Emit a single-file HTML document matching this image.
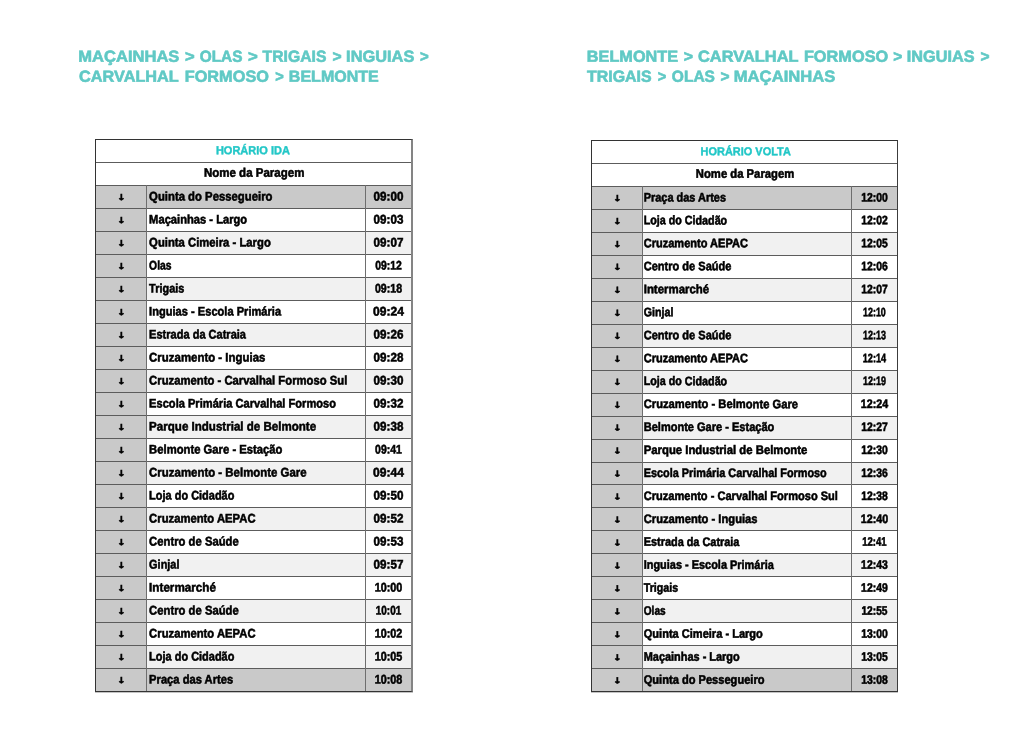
<!DOCTYPE html>
<html lang="pt"><head><meta charset="utf-8"><title>Horário</title>
<style>
html,body{margin:0;padding:0;background:#fff;}
body{width:1030px;height:730px;position:relative;overflow:hidden;font-family:"Liberation Sans",sans-serif;font-weight:bold;color:#000;}
.x{position:absolute;display:block;white-space:nowrap;transform-origin:0 0;-webkit-text-stroke:0.55px #000;}
.x.tt{color:#60c9c5;-webkit-text-stroke:0.6px #60c9c5;}
.x.hd{color:#22c7c7;-webkit-text-stroke:0.4px #22c7c7;}
.x.ar{font-family:"DejaVu Sans",sans-serif;-webkit-text-stroke:0.5px #000;}
.tb{position:absolute;box-sizing:border-box;border:1px solid #333;background:#fff;box-shadow:0 1px 0 rgba(40,40,40,.28);}
.tb.t1{border-right:2px solid #848484;}
.tb.t2{border-right-color:#3c3c3c;}
.tb .row{position:absolute;left:0;right:0;margin-top:-1px;}
.tb .row.d{background:#c9c9c9}
.tb .row.g{background:#f1f1f1}
.tb .row .a{position:absolute;left:0;top:0;bottom:0;width:51px;background:#c9c9c9;}
.tb .hl{position:absolute;left:0;right:0;height:1px;margin-top:-1px;background:#5c5c5c;}
.tb .vl{position:absolute;top:45px;bottom:0;width:1px;margin-left:-1px;background:#6e6e6e;}

</style></head><body>
<span class="x tt" style="left:78px;top:46px;font-size:16.0px;line-height:20px;transform:matrix(1.0340,.0006,.0006,1,0.27,0.80)">MAÇAINHAS</span>
<span class="x tt" style="left:185px;top:46px;font-size:16.0px;line-height:20px;transform:matrix(1.0333,.0006,.0006,1,0.00,0.80)">&gt;</span>
<span class="x tt" style="left:199px;top:46px;font-size:16.0px;line-height:20px;transform:matrix(0.9626,.0006,.0006,1,0.70,0.80)">OLAS</span>
<span class="x tt" style="left:248px;top:46px;font-size:16.0px;line-height:20px;transform:matrix(1.0444,.0006,.0006,1,0.00,0.80)">&gt;</span>
<span class="x tt" style="left:262px;top:46px;font-size:16.0px;line-height:20px;transform:matrix(0.9828,.0006,.0006,1,0.60,0.80)">TRIGAIS</span>
<span class="x tt" style="left:332px;top:46px;font-size:16.0px;line-height:20px;transform:matrix(0.9778,.0006,.0006,1,0.50,0.80)">&gt;</span>
<span class="x tt" style="left:346px;top:46px;font-size:16.0px;line-height:20px;transform:matrix(1.0242,.0006,.0006,1,0.08,0.80)">INGUIAS</span>
<span class="x tt" style="left:419px;top:46px;font-size:16.0px;line-height:20px;transform:matrix(0.9333,.0006,.0006,1,0.90,0.80)">&gt;</span>
<span class="x tt" style="left:79px;top:66px;font-size:16.0px;line-height:20px;transform:matrix(1.0173,.0006,.0006,1,0.00,0.75)">CARVALHAL</span>
<span class="x tt" style="left:184px;top:66px;font-size:16.0px;line-height:20px;transform:matrix(1.0195,.0006,.0006,1,0.68,0.75)">FORMOSO</span>
<span class="x tt" style="left:275px;top:66px;font-size:16.0px;line-height:20px;transform:matrix(0.9111,.0006,.0006,1,0.20,0.75)">&gt;</span>
<span class="x tt" style="left:288px;top:66px;font-size:16.0px;line-height:20px;transform:matrix(1.0022,.0006,.0006,1,0.80,0.75)">BELMONTE</span>
<span class="x tt" style="left:586px;top:46px;font-size:16.0px;line-height:20px;transform:matrix(1.0168,.0006,.0006,1,0.78,0.80)">BELMONTE</span>
<span class="x tt" style="left:683px;top:46px;font-size:16.0px;line-height:20px;transform:matrix(0.9889,.0006,.0006,1,0.70,0.80)">&gt;</span>
<span class="x tt" style="left:697px;top:46px;font-size:16.0px;line-height:20px;transform:matrix(1.0265,.0006,.0006,1,0.90,0.80)">CARVALHAL</span>
<span class="x tt" style="left:803px;top:46px;font-size:16.0px;line-height:20px;transform:matrix(1.0207,.0006,.0006,1,0.88,0.80)">FORMOSO</span>
<span class="x tt" style="left:893px;top:46px;font-size:16.0px;line-height:20px;transform:matrix(0.9667,.0006,.0006,1,0.20,0.80)">&gt;</span>
<span class="x tt" style="left:906px;top:46px;font-size:16.0px;line-height:20px;transform:matrix(1.0152,.0006,.0006,1,0.78,0.80)">INGUIAS</span>
<span class="x tt" style="left:980px;top:46px;font-size:16.0px;line-height:20px;transform:matrix(0.9667,.0006,.0006,1,0.60,0.80)">&gt;</span>
<span class="x tt" style="left:587px;top:66px;font-size:16.0px;line-height:20px;transform:matrix(0.9966,.0006,.0006,1,0.00,0.75)">TRIGAIS</span>
<span class="x tt" style="left:657px;top:66px;font-size:16.0px;line-height:20px;transform:matrix(0.9111,.0006,.0006,1,0.70,0.75)">&gt;</span>
<span class="x tt" style="left:671px;top:66px;font-size:16.0px;line-height:20px;transform:matrix(0.9716,.0006,.0006,1,0.80,0.75)">OLAS</span>
<span class="x tt" style="left:720px;top:66px;font-size:16.0px;line-height:20px;transform:matrix(0.9667,.0006,.0006,1,0.60,0.75)">&gt;</span>
<span class="x tt" style="left:733px;top:66px;font-size:16.0px;line-height:20px;transform:matrix(1.0391,.0006,.0006,1,0.76,0.75)">MAÇAINHAS</span>
<div class="tb t1" style="left:95px;top:139px;width:318px;height:553px">
<div class="row d" style="top:46px;height:23px"><i class="a"></i></div>
<div class="row w" style="top:69px;height:23px"><i class="a"></i></div>
<div class="row g" style="top:92px;height:23px"><i class="a"></i></div>
<div class="row w" style="top:115px;height:23px"><i class="a"></i></div>
<div class="row g" style="top:138px;height:23px"><i class="a"></i></div>
<div class="row w" style="top:161px;height:23px"><i class="a"></i></div>
<div class="row g" style="top:184px;height:23px"><i class="a"></i></div>
<div class="row w" style="top:207px;height:23px"><i class="a"></i></div>
<div class="row g" style="top:230px;height:23px"><i class="a"></i></div>
<div class="row w" style="top:253px;height:23px"><i class="a"></i></div>
<div class="row g" style="top:276px;height:23px"><i class="a"></i></div>
<div class="row w" style="top:299px;height:23px"><i class="a"></i></div>
<div class="row g" style="top:322px;height:23px"><i class="a"></i></div>
<div class="row w" style="top:345px;height:23px"><i class="a"></i></div>
<div class="row g" style="top:368px;height:23px"><i class="a"></i></div>
<div class="row w" style="top:391px;height:23px"><i class="a"></i></div>
<div class="row g" style="top:414px;height:23px"><i class="a"></i></div>
<div class="row w" style="top:437px;height:23px"><i class="a"></i></div>
<div class="row g" style="top:460px;height:23px"><i class="a"></i></div>
<div class="row w" style="top:483px;height:23px"><i class="a"></i></div>
<div class="row g" style="top:506px;height:23px"><i class="a"></i></div>
<div class="row d" style="top:529px;height:23px"><i class="a"></i></div>
<b class="hl" style="top:23px"></b>
<b class="hl" style="top:46px"></b>
<b class="hl" style="top:69px"></b>
<b class="hl" style="top:92px"></b>
<b class="hl" style="top:115px"></b>
<b class="hl" style="top:138px"></b>
<b class="hl" style="top:161px"></b>
<b class="hl" style="top:184px"></b>
<b class="hl" style="top:207px"></b>
<b class="hl" style="top:230px"></b>
<b class="hl" style="top:253px"></b>
<b class="hl" style="top:276px"></b>
<b class="hl" style="top:299px"></b>
<b class="hl" style="top:322px"></b>
<b class="hl" style="top:345px"></b>
<b class="hl" style="top:368px"></b>
<b class="hl" style="top:391px"></b>
<b class="hl" style="top:414px"></b>
<b class="hl" style="top:437px"></b>
<b class="hl" style="top:460px"></b>
<b class="hl" style="top:483px"></b>
<b class="hl" style="top:506px"></b>
<b class="hl" style="top:529px"></b>
<b class="vl" style="left:51px"></b><b class="vl" style="left:270px"></b>
</div>
<span class="x hd" style="left:215px;top:139px;font-size:11.6px;line-height:22px;transform:matrix(0.9483,.0006,.0006,1,0.90,0.20)">HORÁRIO IDA</span>
<span class="x " style="left:203px;top:161px;font-size:12.5px;line-height:22px;transform:matrix(0.9215,.0006,.0006,1,0.90,0.75)">Nome da Paragem</span>
<span class="x ar" style="left:117px;top:187px;font-size:9.5px;line-height:22px;transform:matrix(1.1000,.0006,.0006,0.9125,0.10,0.51)">↓</span>
<span class="x " style="left:149px;top:185px;font-size:12.5px;line-height:22px;transform:matrix(0.9062,.0006,.0006,1,0.10,0.45)">Quinta do Pessegueiro</span>
<span class="x " style="left:373px;top:185px;font-size:12.5px;line-height:22px;transform:matrix(0.9338,.0006,.0006,1,0.55,0.45)">09:00</span>
<span class="x ar" style="left:117px;top:210px;font-size:9.5px;line-height:22px;transform:matrix(1.1000,.0006,.0006,0.9125,0.10,0.51)">↓</span>
<span class="x " style="left:149px;top:208px;font-size:12.5px;line-height:22px;transform:matrix(0.8936,.0006,.0006,1,0.10,0.45)">Maçainhas - Largo</span>
<span class="x " style="left:373px;top:208px;font-size:12.5px;line-height:22px;transform:matrix(0.9338,.0006,.0006,1,0.55,0.45)">09:03</span>
<span class="x ar" style="left:117px;top:233px;font-size:9.5px;line-height:22px;transform:matrix(1.1000,.0006,.0006,0.9125,0.10,0.51)">↓</span>
<span class="x " style="left:149px;top:231px;font-size:12.5px;line-height:22px;transform:matrix(0.9030,.0006,.0006,1,0.10,0.45)">Quinta Cimeira - Largo</span>
<span class="x " style="left:373px;top:231px;font-size:12.5px;line-height:22px;transform:matrix(0.9338,.0006,.0006,1,0.55,0.45)">09:07</span>
<span class="x ar" style="left:117px;top:256px;font-size:9.5px;line-height:22px;transform:matrix(1.1000,.0006,.0006,0.9125,0.10,0.51)">↓</span>
<span class="x " style="left:149px;top:254px;font-size:12.5px;line-height:22px;transform:matrix(0.8288,.0006,.0006,1,0.10,0.45)">Olas</span>
<span class="x " style="left:375px;top:254px;font-size:12.5px;line-height:22px;transform:matrix(0.8308,.0006,.0006,1,0.20,0.45)">09:12</span>
<span class="x ar" style="left:117px;top:279px;font-size:9.5px;line-height:22px;transform:matrix(1.1000,.0006,.0006,0.9125,0.10,0.51)">↓</span>
<span class="x " style="left:149px;top:277px;font-size:12.5px;line-height:22px;transform:matrix(0.8750,.0006,.0006,1,0.10,0.45)">Trigais</span>
<span class="x " style="left:374px;top:277px;font-size:12.5px;line-height:22px;transform:matrix(0.8495,.0006,.0006,1,0.90,0.45)">09:18</span>
<span class="x ar" style="left:117px;top:302px;font-size:9.5px;line-height:22px;transform:matrix(1.1000,.0006,.0006,0.9125,0.10,0.51)">↓</span>
<span class="x " style="left:149px;top:300px;font-size:12.5px;line-height:22px;transform:matrix(0.8877,.0006,.0006,1,0.10,0.45)">Inguias - Escola Primária</span>
<span class="x " style="left:373px;top:300px;font-size:12.5px;line-height:22px;transform:matrix(0.9682,.0006,.0006,1,0.00,0.45)">09:24</span>
<span class="x ar" style="left:117px;top:325px;font-size:9.5px;line-height:22px;transform:matrix(1.1000,.0006,.0006,0.9125,0.10,0.51)">↓</span>
<span class="x " style="left:149px;top:323px;font-size:12.5px;line-height:22px;transform:matrix(0.8825,.0006,.0006,1,0.10,0.45)">Estrada da Catraia</span>
<span class="x " style="left:373px;top:323px;font-size:12.5px;line-height:22px;transform:matrix(0.9338,.0006,.0006,1,0.55,0.45)">09:26</span>
<span class="x ar" style="left:117px;top:348px;font-size:9.5px;line-height:22px;transform:matrix(1.1000,.0006,.0006,0.9125,0.10,0.51)">↓</span>
<span class="x " style="left:149px;top:346px;font-size:12.5px;line-height:22px;transform:matrix(0.9147,.0006,.0006,1,0.10,0.45)">Cruzamento - Inguias</span>
<span class="x " style="left:373px;top:346px;font-size:12.5px;line-height:22px;transform:matrix(0.9338,.0006,.0006,1,0.55,0.45)">09:28</span>
<span class="x ar" style="left:117px;top:371px;font-size:9.5px;line-height:22px;transform:matrix(1.1000,.0006,.0006,0.9125,0.10,0.51)">↓</span>
<span class="x " style="left:149px;top:369px;font-size:12.5px;line-height:22px;transform:matrix(0.9032,.0006,.0006,1,0.10,0.45)">Cruzamento - Carvalhal Formoso Sul</span>
<span class="x " style="left:373px;top:369px;font-size:12.5px;line-height:22px;transform:matrix(0.9338,.0006,.0006,1,0.55,0.45)">09:30</span>
<span class="x ar" style="left:117px;top:394px;font-size:9.5px;line-height:22px;transform:matrix(1.1000,.0006,.0006,0.9125,0.10,0.51)">↓</span>
<span class="x " style="left:149px;top:392px;font-size:12.5px;line-height:22px;transform:matrix(0.8878,.0006,.0006,1,0.10,0.45)">Escola Primária Carvalhal Formoso</span>
<span class="x " style="left:373px;top:392px;font-size:12.5px;line-height:22px;transform:matrix(0.9338,.0006,.0006,1,0.55,0.45)">09:32</span>
<span class="x ar" style="left:117px;top:417px;font-size:9.5px;line-height:22px;transform:matrix(1.1000,.0006,.0006,0.9125,0.10,0.51)">↓</span>
<span class="x " style="left:149px;top:415px;font-size:12.5px;line-height:22px;transform:matrix(0.9250,.0006,.0006,1,0.10,0.45)">Parque Industrial de Belmonte</span>
<span class="x " style="left:373px;top:415px;font-size:12.5px;line-height:22px;transform:matrix(0.9338,.0006,.0006,1,0.55,0.45)">09:38</span>
<span class="x ar" style="left:117px;top:440px;font-size:9.5px;line-height:22px;transform:matrix(1.1000,.0006,.0006,0.9125,0.10,0.51)">↓</span>
<span class="x " style="left:149px;top:438px;font-size:12.5px;line-height:22px;transform:matrix(0.9014,.0006,.0006,1,0.10,0.45)">Belmonte Gare - Estação</span>
<span class="x " style="left:375px;top:438px;font-size:12.5px;line-height:22px;transform:matrix(0.8401,.0006,.0006,1,0.05,0.45)">09:41</span>
<span class="x ar" style="left:117px;top:463px;font-size:9.5px;line-height:22px;transform:matrix(1.1000,.0006,.0006,0.9125,0.10,0.51)">↓</span>
<span class="x " style="left:149px;top:461px;font-size:12.5px;line-height:22px;transform:matrix(0.9147,.0006,.0006,1,0.10,0.45)">Cruzamento - Belmonte Gare</span>
<span class="x " style="left:373px;top:461px;font-size:12.5px;line-height:22px;transform:matrix(0.9682,.0006,.0006,1,0.00,0.45)">09:44</span>
<span class="x ar" style="left:117px;top:486px;font-size:9.5px;line-height:22px;transform:matrix(1.1000,.0006,.0006,0.9125,0.10,0.51)">↓</span>
<span class="x " style="left:149px;top:484px;font-size:12.5px;line-height:22px;transform:matrix(0.8772,.0006,.0006,1,0.10,0.45)">Loja do Cidadão</span>
<span class="x " style="left:373px;top:484px;font-size:12.5px;line-height:22px;transform:matrix(0.9338,.0006,.0006,1,0.55,0.45)">09:50</span>
<span class="x ar" style="left:117px;top:509px;font-size:9.5px;line-height:22px;transform:matrix(1.1000,.0006,.0006,0.9125,0.10,0.51)">↓</span>
<span class="x " style="left:149px;top:507px;font-size:12.5px;line-height:22px;transform:matrix(0.9012,.0006,.0006,1,0.10,0.45)">Cruzamento AEPAC</span>
<span class="x " style="left:373px;top:507px;font-size:12.5px;line-height:22px;transform:matrix(0.9338,.0006,.0006,1,0.55,0.45)">09:52</span>
<span class="x ar" style="left:117px;top:532px;font-size:9.5px;line-height:22px;transform:matrix(1.1000,.0006,.0006,0.9125,0.10,0.51)">↓</span>
<span class="x " style="left:149px;top:530px;font-size:12.5px;line-height:22px;transform:matrix(0.9027,.0006,.0006,1,0.10,0.45)">Centro de Saúde</span>
<span class="x " style="left:373px;top:530px;font-size:12.5px;line-height:22px;transform:matrix(0.9338,.0006,.0006,1,0.55,0.45)">09:53</span>
<span class="x ar" style="left:117px;top:555px;font-size:9.5px;line-height:22px;transform:matrix(1.1000,.0006,.0006,0.9125,0.10,0.51)">↓</span>
<span class="x " style="left:149px;top:553px;font-size:12.5px;line-height:22px;transform:matrix(0.8728,.0006,.0006,1,0.10,0.45)">Ginjal</span>
<span class="x " style="left:373px;top:553px;font-size:12.5px;line-height:22px;transform:matrix(0.9338,.0006,.0006,1,0.55,0.45)">09:57</span>
<span class="x ar" style="left:117px;top:578px;font-size:9.5px;line-height:22px;transform:matrix(1.1000,.0006,.0006,0.9125,0.10,0.51)">↓</span>
<span class="x " style="left:149px;top:576px;font-size:12.5px;line-height:22px;transform:matrix(0.9343,.0006,.0006,1,0.10,0.45)">Intermarché</span>
<span class="x " style="left:374px;top:576px;font-size:12.5px;line-height:22px;transform:matrix(0.8651,.0006,.0006,1,0.65,0.45)">10:00</span>
<span class="x ar" style="left:117px;top:601px;font-size:9.5px;line-height:22px;transform:matrix(1.1000,.0006,.0006,0.9125,0.10,0.51)">↓</span>
<span class="x " style="left:149px;top:599px;font-size:12.5px;line-height:22px;transform:matrix(0.9027,.0006,.0006,1,0.10,0.45)">Centro de Saúde</span>
<span class="x " style="left:375px;top:599px;font-size:12.5px;line-height:22px;transform:matrix(0.7964,.0006,.0006,1,0.75,0.45)">10:01</span>
<span class="x ar" style="left:117px;top:624px;font-size:9.5px;line-height:22px;transform:matrix(1.1000,.0006,.0006,0.9125,0.10,0.51)">↓</span>
<span class="x " style="left:149px;top:622px;font-size:12.5px;line-height:22px;transform:matrix(0.9012,.0006,.0006,1,0.10,0.45)">Cruzamento AEPAC</span>
<span class="x " style="left:374px;top:622px;font-size:12.5px;line-height:22px;transform:matrix(0.8651,.0006,.0006,1,0.65,0.45)">10:02</span>
<span class="x ar" style="left:117px;top:647px;font-size:9.5px;line-height:22px;transform:matrix(1.1000,.0006,.0006,0.9125,0.10,0.51)">↓</span>
<span class="x " style="left:149px;top:645px;font-size:12.5px;line-height:22px;transform:matrix(0.8772,.0006,.0006,1,0.10,0.45)">Loja do Cidadão</span>
<span class="x " style="left:374px;top:645px;font-size:12.5px;line-height:22px;transform:matrix(0.8651,.0006,.0006,1,0.65,0.45)">10:05</span>
<span class="x ar" style="left:117px;top:670px;font-size:9.5px;line-height:22px;transform:matrix(1.1000,.0006,.0006,0.9125,0.10,0.51)">↓</span>
<span class="x " style="left:149px;top:668px;font-size:12.5px;line-height:22px;transform:matrix(0.8937,.0006,.0006,1,0.10,0.45)">Praça das Artes</span>
<span class="x " style="left:374px;top:668px;font-size:12.5px;line-height:22px;transform:matrix(0.8651,.0006,.0006,1,0.65,0.45)">10:08</span>

<div class="tb t2" style="left:591px;top:140px;width:307px;height:552px">
<div class="row d" style="top:46px;height:23px"><i class="a"></i></div>
<div class="row w" style="top:69px;height:23px"><i class="a"></i></div>
<div class="row g" style="top:92px;height:23px"><i class="a"></i></div>
<div class="row w" style="top:115px;height:23px"><i class="a"></i></div>
<div class="row g" style="top:138px;height:23px"><i class="a"></i></div>
<div class="row w" style="top:161px;height:23px"><i class="a"></i></div>
<div class="row g" style="top:184px;height:23px"><i class="a"></i></div>
<div class="row w" style="top:207px;height:23px"><i class="a"></i></div>
<div class="row g" style="top:230px;height:23px"><i class="a"></i></div>
<div class="row w" style="top:253px;height:23px"><i class="a"></i></div>
<div class="row g" style="top:276px;height:23px"><i class="a"></i></div>
<div class="row w" style="top:299px;height:23px"><i class="a"></i></div>
<div class="row g" style="top:322px;height:22px"><i class="a"></i></div>
<div class="row w" style="top:344px;height:23px"><i class="a"></i></div>
<div class="row g" style="top:367px;height:23px"><i class="a"></i></div>
<div class="row w" style="top:390px;height:23px"><i class="a"></i></div>
<div class="row g" style="top:413px;height:23px"><i class="a"></i></div>
<div class="row w" style="top:436px;height:23px"><i class="a"></i></div>
<div class="row g" style="top:459px;height:23px"><i class="a"></i></div>
<div class="row w" style="top:482px;height:23px"><i class="a"></i></div>
<div class="row g" style="top:505px;height:23px"><i class="a"></i></div>
<div class="row d" style="top:528px;height:23px"><i class="a"></i></div>
<b class="hl" style="top:23px"></b>
<b class="hl" style="top:46px"></b>
<b class="hl" style="top:69px"></b>
<b class="hl" style="top:92px"></b>
<b class="hl" style="top:115px"></b>
<b class="hl" style="top:138px"></b>
<b class="hl" style="top:161px"></b>
<b class="hl" style="top:184px"></b>
<b class="hl" style="top:207px"></b>
<b class="hl" style="top:230px"></b>
<b class="hl" style="top:253px"></b>
<b class="hl" style="top:276px"></b>
<b class="hl" style="top:299px"></b>
<b class="hl" style="top:322px"></b>
<b class="hl" style="top:344px"></b>
<b class="hl" style="top:367px"></b>
<b class="hl" style="top:390px"></b>
<b class="hl" style="top:413px"></b>
<b class="hl" style="top:436px"></b>
<b class="hl" style="top:459px"></b>
<b class="hl" style="top:482px"></b>
<b class="hl" style="top:505px"></b>
<b class="hl" style="top:528px"></b>
<b class="vl" style="left:51px"></b><b class="vl" style="left:260px"></b>
</div>
<span class="x hd" style="left:700px;top:140px;font-size:11.5px;line-height:22px;transform:matrix(0.9517,.0006,.0006,1,0.60,0.20)">HORÁRIO VOLTA</span>
<span class="x " style="left:695px;top:162px;font-size:12.3px;line-height:22px;transform:matrix(0.9174,.0006,.0006,1,0.80,0.72)">Nome da Paragem</span>
<span class="x ar" style="left:613px;top:188px;font-size:9.5px;line-height:22px;transform:matrix(1.1000,.0006,.0006,0.9125,0.10,0.44)">↓</span>
<span class="x " style="left:643px;top:186px;font-size:12.3px;line-height:22px;transform:matrix(0.8892,.0006,.0006,1,0.70,0.38)">Praça das Artes</span>
<span class="x " style="left:861px;top:186px;font-size:12.3px;line-height:22px;transform:matrix(0.8446,.0006,.0006,1,0.15,0.38)">12:00</span>
<span class="x ar" style="left:613px;top:211px;font-size:9.5px;line-height:22px;transform:matrix(1.1000,.0006,.0006,0.9125,0.10,0.41)">↓</span>
<span class="x " style="left:643px;top:209px;font-size:12.3px;line-height:22px;transform:matrix(0.8726,.0006,.0006,1,0.70,0.34)">Loja do Cidadão</span>
<span class="x " style="left:861px;top:209px;font-size:12.3px;line-height:22px;transform:matrix(0.8446,.0006,.0006,1,0.15,0.34)">12:02</span>
<span class="x ar" style="left:613px;top:234px;font-size:9.5px;line-height:22px;transform:matrix(1.1000,.0006,.0006,0.9125,0.10,0.37)">↓</span>
<span class="x " style="left:643px;top:232px;font-size:12.3px;line-height:22px;transform:matrix(0.8967,.0006,.0006,1,0.70,0.31)">Cruzamento AEPAC</span>
<span class="x " style="left:861px;top:232px;font-size:12.3px;line-height:22px;transform:matrix(0.8446,.0006,.0006,1,0.15,0.31)">12:05</span>
<span class="x ar" style="left:613px;top:257px;font-size:9.5px;line-height:22px;transform:matrix(1.1000,.0006,.0006,0.9125,0.10,0.34)">↓</span>
<span class="x " style="left:643px;top:255px;font-size:12.3px;line-height:22px;transform:matrix(0.8982,.0006,.0006,1,0.70,0.27)">Centro de Saúde</span>
<span class="x " style="left:861px;top:255px;font-size:12.3px;line-height:22px;transform:matrix(0.8446,.0006,.0006,1,0.15,0.27)">12:06</span>
<span class="x ar" style="left:613px;top:280px;font-size:9.5px;line-height:22px;transform:matrix(1.1000,.0006,.0006,0.9125,0.10,0.30)">↓</span>
<span class="x " style="left:643px;top:278px;font-size:12.3px;line-height:22px;transform:matrix(0.9292,.0006,.0006,1,0.70,0.24)">Intermarché</span>
<span class="x " style="left:861px;top:278px;font-size:12.3px;line-height:22px;transform:matrix(0.8446,.0006,.0006,1,0.15,0.24)">12:07</span>
<span class="x ar" style="left:613px;top:303px;font-size:9.5px;line-height:22px;transform:matrix(1.1000,.0006,.0006,0.9125,0.10,0.27)">↓</span>
<span class="x " style="left:643px;top:301px;font-size:12.3px;line-height:22px;transform:matrix(0.8683,.0006,.0006,1,0.70,0.20)">Ginjal</span>
<span class="x " style="left:863px;top:301px;font-size:12.3px;line-height:22px;transform:matrix(0.7212,.0006,.0006,1,0.10,0.20)">12:10</span>
<span class="x ar" style="left:613px;top:326px;font-size:9.5px;line-height:22px;transform:matrix(1.1000,.0006,.0006,0.9125,0.10,0.23)">↓</span>
<span class="x " style="left:643px;top:324px;font-size:12.3px;line-height:22px;transform:matrix(0.8982,.0006,.0006,1,0.70,0.17)">Centro de Saúde</span>
<span class="x " style="left:863px;top:324px;font-size:12.3px;line-height:22px;transform:matrix(0.7276,.0006,.0006,1,0.00,0.17)">12:13</span>
<span class="x ar" style="left:613px;top:349px;font-size:9.5px;line-height:22px;transform:matrix(1.1000,.0006,.0006,0.9125,0.10,0.20)">↓</span>
<span class="x " style="left:643px;top:347px;font-size:12.3px;line-height:22px;transform:matrix(0.8967,.0006,.0006,1,0.70,0.13)">Cruzamento AEPAC</span>
<span class="x " style="left:862px;top:347px;font-size:12.3px;line-height:22px;transform:matrix(0.7434,.0006,.0006,1,0.75,0.13)">12:14</span>
<span class="x ar" style="left:613px;top:372px;font-size:9.5px;line-height:22px;transform:matrix(1.1000,.0006,.0006,0.9125,0.10,0.16)">↓</span>
<span class="x " style="left:643px;top:370px;font-size:12.3px;line-height:22px;transform:matrix(0.8726,.0006,.0006,1,0.70,0.10)">Loja do Cidadão</span>
<span class="x " style="left:863px;top:370px;font-size:12.3px;line-height:22px;transform:matrix(0.7276,.0006,.0006,1,0.00,0.10)">12:19</span>
<span class="x ar" style="left:613px;top:395px;font-size:9.5px;line-height:22px;transform:matrix(1.1000,.0006,.0006,0.9125,0.10,0.13)">↓</span>
<span class="x " style="left:643px;top:393px;font-size:12.3px;line-height:22px;transform:matrix(0.9106,.0006,.0006,1,0.70,0.06)">Cruzamento - Belmonte Gare</span>
<span class="x " style="left:860px;top:393px;font-size:12.3px;line-height:22px;transform:matrix(0.8699,.0006,.0006,1,0.75,0.06)">12:24</span>
<span class="x ar" style="left:613px;top:418px;font-size:9.5px;line-height:22px;transform:matrix(1.1000,.0006,.0006,0.9125,0.10,0.09)">↓</span>
<span class="x " style="left:643px;top:416px;font-size:12.3px;line-height:22px;transform:matrix(0.8971,.0006,.0006,1,0.70,0.03)">Belmonte Gare - Estação</span>
<span class="x " style="left:861px;top:416px;font-size:12.3px;line-height:22px;transform:matrix(0.8446,.0006,.0006,1,0.15,0.03)">12:27</span>
<span class="x ar" style="left:613px;top:441px;font-size:9.5px;line-height:22px;transform:matrix(1.1000,.0006,.0006,0.9125,0.10,0.06)">↓</span>
<span class="x " style="left:643px;top:438px;font-size:12.3px;line-height:22px;transform:matrix(0.9209,.0006,.0006,1,0.70,1.00)">Parque Industrial de Belmonte</span>
<span class="x " style="left:861px;top:438px;font-size:12.3px;line-height:22px;transform:matrix(0.8446,.0006,.0006,1,0.15,1.00)">12:30</span>
<span class="x ar" style="left:613px;top:464px;font-size:9.5px;line-height:22px;transform:matrix(1.1000,.0006,.0006,0.9125,0.10,0.02)">↓</span>
<span class="x " style="left:643px;top:461px;font-size:12.3px;line-height:22px;transform:matrix(0.8838,.0006,.0006,1,0.70,0.96)">Escola Primária Carvalhal Formoso</span>
<span class="x " style="left:861px;top:461px;font-size:12.3px;line-height:22px;transform:matrix(0.8446,.0006,.0006,1,0.15,0.96)">12:36</span>
<span class="x ar" style="left:613px;top:486px;font-size:9.5px;line-height:22px;transform:matrix(1.1000,.0006,.0006,0.9125,0.10,0.99)">↓</span>
<span class="x " style="left:643px;top:484px;font-size:12.3px;line-height:22px;transform:matrix(0.8995,.0006,.0006,1,0.70,0.93)">Cruzamento - Carvalhal Formoso Sul</span>
<span class="x " style="left:861px;top:484px;font-size:12.3px;line-height:22px;transform:matrix(0.8446,.0006,.0006,1,0.15,0.93)">12:38</span>
<span class="x ar" style="left:613px;top:509px;font-size:9.5px;line-height:22px;transform:matrix(1.1000,.0006,.0006,0.9125,0.10,0.95)">↓</span>
<span class="x " style="left:643px;top:507px;font-size:12.3px;line-height:22px;transform:matrix(0.9104,.0006,.0006,1,0.70,0.89)">Cruzamento - Inguias</span>
<span class="x " style="left:860px;top:507px;font-size:12.3px;line-height:22px;transform:matrix(0.8731,.0006,.0006,1,0.70,0.89)">12:40</span>
<span class="x ar" style="left:613px;top:532px;font-size:9.5px;line-height:22px;transform:matrix(1.1000,.0006,.0006,0.9125,0.10,0.92)">↓</span>
<span class="x " style="left:643px;top:530px;font-size:12.3px;line-height:22px;transform:matrix(0.8862,.0006,.0006,1,0.70,0.86)">Estrada da Catraia</span>
<span class="x " style="left:862px;top:530px;font-size:12.3px;line-height:22px;transform:matrix(0.7719,.0006,.0006,1,0.30,0.86)">12:41</span>
<span class="x ar" style="left:613px;top:555px;font-size:9.5px;line-height:22px;transform:matrix(1.1000,.0006,.0006,0.9125,0.10,0.88)">↓</span>
<span class="x " style="left:643px;top:553px;font-size:12.3px;line-height:22px;transform:matrix(0.8895,.0006,.0006,1,0.70,0.82)">Inguias - Escola Primária</span>
<span class="x " style="left:861px;top:553px;font-size:12.3px;line-height:22px;transform:matrix(0.8478,.0006,.0006,1,0.10,0.82)">12:43</span>
<span class="x ar" style="left:613px;top:578px;font-size:9.5px;line-height:22px;transform:matrix(1.1000,.0006,.0006,0.9125,0.10,0.85)">↓</span>
<span class="x " style="left:643px;top:576px;font-size:12.3px;line-height:22px;transform:matrix(0.8692,.0006,.0006,1,0.70,0.79)">Trigais</span>
<span class="x " style="left:861px;top:576px;font-size:12.3px;line-height:22px;transform:matrix(0.8478,.0006,.0006,1,0.10,0.79)">12:49</span>
<span class="x ar" style="left:613px;top:601px;font-size:9.5px;line-height:22px;transform:matrix(1.1000,.0006,.0006,0.9125,0.10,0.81)">↓</span>
<span class="x " style="left:643px;top:599px;font-size:12.3px;line-height:22px;transform:matrix(0.8221,.0006,.0006,1,0.70,0.75)">Olas</span>
<span class="x " style="left:861px;top:599px;font-size:12.3px;line-height:22px;transform:matrix(0.8288,.0006,.0006,1,0.40,0.75)">12:55</span>
<span class="x ar" style="left:613px;top:624px;font-size:9.5px;line-height:22px;transform:matrix(1.1000,.0006,.0006,0.9125,0.10,0.78)">↓</span>
<span class="x " style="left:643px;top:622px;font-size:12.3px;line-height:22px;transform:matrix(0.8987,.0006,.0006,1,0.70,0.72)">Quinta Cimeira - Largo</span>
<span class="x " style="left:861px;top:622px;font-size:12.3px;line-height:22px;transform:matrix(0.8446,.0006,.0006,1,0.15,0.72)">13:00</span>
<span class="x ar" style="left:613px;top:647px;font-size:9.5px;line-height:22px;transform:matrix(1.1000,.0006,.0006,0.9125,0.10,0.74)">↓</span>
<span class="x " style="left:643px;top:645px;font-size:12.3px;line-height:22px;transform:matrix(0.8892,.0006,.0006,1,0.70,0.68)">Maçainhas - Largo</span>
<span class="x " style="left:861px;top:645px;font-size:12.3px;line-height:22px;transform:matrix(0.8446,.0006,.0006,1,0.15,0.68)">13:05</span>
<span class="x ar" style="left:613px;top:670px;font-size:9.5px;line-height:22px;transform:matrix(1.1000,.0006,.0006,0.9125,0.10,0.71)">↓</span>
<span class="x " style="left:643px;top:668px;font-size:12.3px;line-height:22px;transform:matrix(0.9019,.0006,.0006,1,0.70,0.65)">Quinta do Pessegueiro</span>
<span class="x " style="left:861px;top:668px;font-size:12.3px;line-height:22px;transform:matrix(0.8446,.0006,.0006,1,0.15,0.65)">13:08</span>
</body></html>
